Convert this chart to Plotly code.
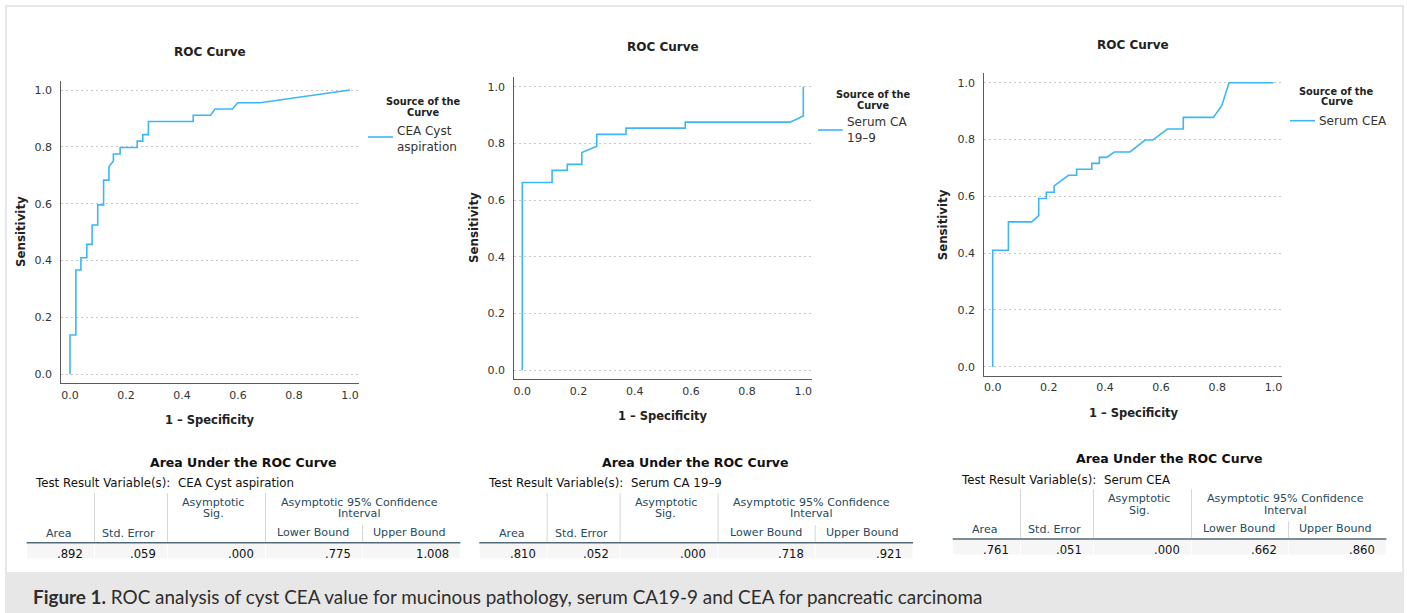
import plotly.graph_objects as go

W, H = 1407, 613

# ---------------- data ----------------
tick_values = [0.0, 0.2, 0.4, 0.6, 0.8, 1.0]
tick_labels = ["0.0", "0.2", "0.4", "0.6", "0.8", "1.0"]

cea_cyst_fpr = [0, 0, 0.021, 0.021, 0.039, 0.039, 0.06, 0.06, 0.079, 0.079, 0.099, 0.099,
                0.12, 0.12, 0.139, 0.139, 0.155, 0.155, 0.179, 0.179, 0.24, 0.24, 0.26, 0.26,
                0.28, 0.28, 0.44, 0.44, 0.502, 0.518, 0.58, 0.599, 0.679, 1.0]
cea_cyst_tpr = [0, 0.138, 0.138, 0.367, 0.367, 0.41, 0.41, 0.457, 0.457, 0.525, 0.525, 0.596,
                0.596, 0.683, 0.683, 0.73, 0.75, 0.775, 0.775, 0.798, 0.798, 0.82, 0.82, 0.843,
                0.843, 0.889, 0.889, 0.911, 0.911, 0.933, 0.933, 0.955, 0.955, 1.0]

ca199_fpr = [0, 0, 0.106, 0.106, 0.16, 0.16, 0.212, 0.212, 0.265, 0.265, 0.369, 0.369,
             0.58, 0.58, 0.953, 1.0, 1.0]
ca199_tpr = [0, 0.662, 0.662, 0.705, 0.705, 0.726, 0.726, 0.768, 0.79, 0.832, 0.832, 0.854,
             0.854, 0.875, 0.875, 0.897, 1.0]

serum_cea_fpr = [0, 0, 0.056, 0.056, 0.139, 0.164, 0.164, 0.191, 0.191, 0.219, 0.219, 0.249,
                 0.27, 0.299, 0.299, 0.353, 0.353, 0.38, 0.38, 0.406, 0.433, 0.489, 0.543,
                 0.57, 0.622, 0.679, 0.679, 0.786, 0.816, 0.842, 1.0]
serum_cea_tpr = [0, 0.41, 0.41, 0.51, 0.51, 0.532, 0.592, 0.592, 0.614, 0.614, 0.637, 0.66,
                 0.674, 0.674, 0.695, 0.695, 0.716, 0.716, 0.737, 0.737, 0.756, 0.756, 0.798,
                 0.798, 0.837, 0.837, 0.878, 0.878, 0.919, 1.0, 1.0]

variable_names = ["CEA Cyst aspiration", "Serum CA 19\u20139", "Serum CEA"]
legend_labels = ["CEA Cyst<br>aspiration", "Serum CA<br>19\u20139", "Serum CEA"]

auc_area = [".892", ".810", ".761"]
std_error = [".059", ".052", ".051"]
asym_sig = [".000", ".000", ".000"]
ci_lower = [".775", ".718", ".662"]
ci_upper = ["1.008", ".921", ".860"]

caption_bold = "Figure 1."
caption_text = "ROC analysis of cyst CEA value for mucinous pathology, serum CA19-9 and CEA for pancreatic carcinoma"

# ---------------- styling / layout ----------------
FONT = "DejaVu Sans"
LINE_COLOR = "#3cb6f6"
HEAD_COLOR = "#264a60"


def X(px):
    return px / W


def Y(py):
    return 1 - py / H


panels = [
    dict(left=61.3, right=359.3, top=80.7, bottom=383.3, x0=70.0, xs=280.0, y0=374.3, ys=284.3,
         title=(210, 51.7), ytitle=(21, 232), xtitle=(210, 420),
         leg_title=(423, 102, 112), leg_line=(368, 393, 137), leg_text=(395, 138.5),
         table=(26.7, 542.7)),
    dict(left=514.3, right=812.3, top=76.7, bottom=379.3, x0=522.3, xs=281.0, y0=370.3, ys=283.6,
         title=(662.7, 47.3), ytitle=(474, 228), xtitle=(662.7, 416),
         leg_title=(873.3, 94, 105), leg_line=(818, 842.7, 130), leg_text=(845, 130.5),
         table=(479.3, 542.7)),
    dict(left=984.3, right=1282.3, top=73.3, bottom=376.0, x0=992.7, xs=280.7, y0=366.7, ys=284.0,
         title=(1133.3, 44.7), ytitle=(943.3, 225), xtitle=(1134, 412.7),
         leg_title=(1336.7, 91, 101.7), leg_line=(1290, 1315, 120.7), leg_text=(1316.7, 120.7),
         table=(952.7, 539.0)),
]

curves = [(cea_cyst_fpr, cea_cyst_tpr), (ca199_fpr, ca199_tpr), (serum_cea_fpr, serum_cea_tpr)]

fig = go.Figure()
annotations = []
shapes = []

# frame and caption band
shapes.append(dict(type="rect", xref="paper", yref="paper", x0=X(6), x1=X(1403), y0=Y(573), y1=Y(6),
                   line=dict(color="#e6e6e6", width=2), fillcolor="rgba(0,0,0,0)", layer="below"))
shapes.append(dict(type="rect", xref="paper", yref="paper", x0=X(5), x1=X(1404), y0=Y(613), y1=Y(573),
                   line=dict(width=0), fillcolor="#e7e7e7", layer="below"))
annotations.append(dict(xref="paper", yref="paper", x=X(31), y=Y(596), xanchor="left", yanchor="middle",
                        showarrow=False, text="<b>" + caption_bold + "</b> " + caption_text,
                        font=dict(family="Lato", size=18.9, color="#2e2e2e")))


def ann(x, y, text, size, bold=False, color="#222", xanchor="center", angle=0, family=FONT, align="center"):
    annotations.append(dict(xref="paper", yref="paper", x=X(x), y=Y(y), xanchor=xanchor, yanchor="middle",
                            showarrow=False, textangle=angle, align=align,
                            text=("<b>%s</b>" % text) if bold else text,
                            font=dict(family=family, size=size, color=color)))


for i, p in enumerate(panels):
    n = "" if i == 0 else str(i + 1)
    xr = [(p["left"] - p["x0"]) / p["xs"], (p["right"] - p["x0"]) / p["xs"]]
    yr = [(p["y0"] - p["bottom"]) / p["ys"], (p["y0"] - p["top"]) / p["ys"]]
    fx, fy = curves[i]
    fig.add_trace(go.Scatter(x=fx, y=fy, mode="lines", line=dict(color=LINE_COLOR, width=1.6),
                             xaxis="x" + n, yaxis="y" + n, showlegend=False, hoverinfo="skip"))
    axcommon = dict(showline=True, linecolor="#5a5a5a", linewidth=1.2, zeroline=False, ticks="",
                    tickvals=tick_values, ticktext=tick_labels,
                    tickfont=dict(family=FONT, size=11, color="#333"))
    fig.update_layout(**{
        "xaxis" + n: dict(domain=[X(p["left"]), X(p["right"])], range=xr, showgrid=False,
                          anchor="y" + n, ticklabelstandoff=1, **axcommon),
        "yaxis" + n: dict(domain=[Y(p["bottom"]), Y(p["top"])], range=yr, showgrid=True,
                          gridcolor="#c8c8c8", gridwidth=1, griddash="2px,3px",
                          anchor="x" + n, ticklabelstandoff=6, **axcommon),
    })
    # titles
    ann(p["title"][0], p["title"][1], "ROC Curve", 12, bold=True, color="#222")
    ann(p["ytitle"][0], p["ytitle"][1], "Sensitivity", 11.8, bold=True, angle=-90)
    ann(p["xtitle"][0], p["xtitle"][1], "1 \u2013 Specificity", 11.5, bold=True)
    # legend
    lt = p["leg_title"]
    ann(lt[0], lt[1], "Source of the", 9.8, bold=True)
    ann(lt[0], lt[2], "Curve", 9.8, bold=True)
    ll = p["leg_line"]
    shapes.append(dict(type="line", xref="paper", yref="paper", x0=X(ll[0]), x1=X(ll[1]),
                       y0=Y(ll[2]), y1=Y(ll[2]), line=dict(color=LINE_COLOR, width=1.6)))
    tx, ty = p["leg_text"]
    ann(tx, ty, legend_labels[i], 12, xanchor="left", color="#333", align="left")

    # table
    L, T = p["table"]
    ann(L + 216, T - 80.5, "Area Under the ROC Curve", 12.5, bold=True, color="#111")
    ann(L + 6.7, T - 59.3, "Test Result Variable(s):", 11.8, xanchor="left", color="#111")
    ann(L + 149.5, T - 59.3, variable_names[i], 11.8, xanchor="left", color="#111")
    seps = [67.8, 140.8, 238.8, 335.9]
    for k, s in enumerate(seps):
        y_top = T - 49.7 if k < 3 else T - 17.7
        shapes.append(dict(type="line", xref="paper", yref="paper", x0=X(L + s), x1=X(L + s),
                           y0=Y(T - 1), y1=Y(y_top), line=dict(color="#d6d6d6", width=1)))
    edges = [0] + seps + [433.7]
    for a, b in zip(edges[:-1], edges[1:]):
        shapes.append(dict(type="rect", xref="paper", yref="paper", x0=X(L + a + 0.5), x1=X(L + b - 0.5),
                           y0=Y(T + 15.5), y1=Y(T + 1), line=dict(width=0), fillcolor="#f6f6f7",
                           layer="below"))
    shapes.append(dict(type="line", xref="paper", yref="paper", x0=X(L), x1=X(L + 433.7),
                       y0=Y(T), y1=Y(T), line=dict(color="#52697a", width=1.6)))
    hs = 11.1
    ann(L + 186.6, T - 40.4, "Asymptotic", hs, color=HEAD_COLOR)
    ann(L + 186.6, T - 28.8, "Sig.", hs, color=HEAD_COLOR)
    ann(L + 332.5, T - 40.4, "Asymptotic 95% Confidence", hs, color=HEAD_COLOR)
    ann(L + 332.5, T - 28.8, "Interval", hs, color=HEAD_COLOR)
    ann(L + 32.6, T - 9.6, "Area", hs, color=HEAD_COLOR)
    ann(L + 101.7, T - 9.6, "Std. Error", hs, color=HEAD_COLOR)
    ann(L + 286.2, T - 10.2, "Lower Bound", hs, color=HEAD_COLOR)
    ann(L + 382.8, T - 10.2, "Upper Bound", hs, color=HEAD_COLOR)
    vals = [auc_area[i], std_error[i], asym_sig[i], ci_lower[i], ci_upper[i]]
    rights = [58.6, 131.3, 229.1, 326.3, 424.5]
    for v, r in zip(vals, rights):
        ann(L + r, T + 11.3, v, 11.6, xanchor="right", color="#111")

fig.update_layout(width=W, height=H, margin=dict(l=0, r=0, t=0, b=0),
                  paper_bgcolor="white", plot_bgcolor="white",
                  annotations=annotations, shapes=shapes, showlegend=False)

fig.write_html("out.html", config={"displayModeBar": False},
               post_script="document.body.style.margin='0';document.body.style.overflow='hidden';")
